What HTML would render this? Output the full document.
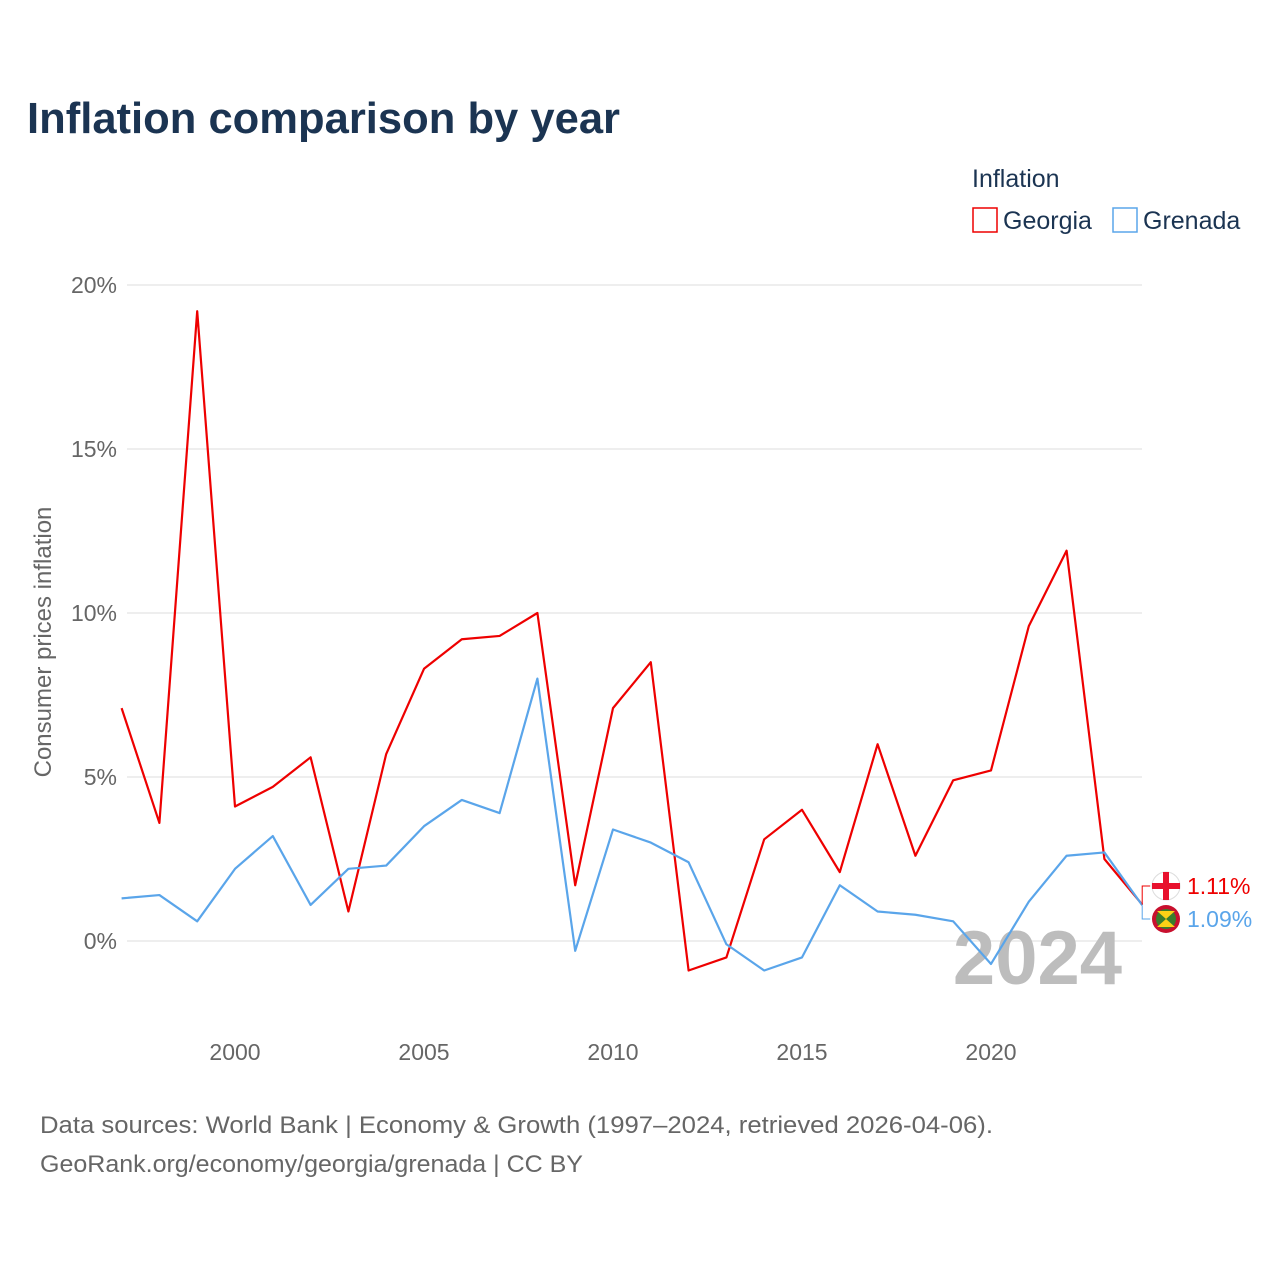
<!DOCTYPE html>
<html><head><meta charset="utf-8"><style>
body{margin:0;background:#fff;}
svg{display:block;font-family:"Liberation Sans",sans-serif;}
</style></head><body>
<svg id="chart" width="1280" height="1280" viewBox="0 0 1280 1280">
<rect width="1280" height="1280" fill="#fff"/>
<text x="27" y="133" font-size="44" font-weight="bold" fill="#1b3452" textLength="593" lengthAdjust="spacingAndGlyphs">Inflation comparison by year</text>
<g>
<text x="972" y="187" font-size="25" fill="#1b3452">Inflation</text>
<g><rect x="973" y="208" width="24" height="24" fill="none" stroke="#ee0000" stroke-width="1.5"/><text x="1003" y="229" font-size="25" fill="#1b3452">Georgia</text></g>
<g><rect x="1113" y="208" width="24" height="24" fill="none" stroke="#5aa5ea" stroke-width="1.5"/><text x="1143" y="229" font-size="25" fill="#1b3452">Grenada</text></g>
</g>
<g id="grid"></g>
<g id="yticks"></g>
<g id="xticks"></g>
<text transform="translate(51,642) rotate(-90)" text-anchor="middle" font-size="24" fill="#666">Consumer prices inflation</text>
<text x="1122" y="984" text-anchor="end" font-size="76" font-weight="bold" fill="#bdbdbd">2024</text>
<g id="series"></g>
<g id="endlabels"></g>
<text x="40" y="1133" font-size="24" fill="#666" textLength="953" lengthAdjust="spacingAndGlyphs">Data sources: World Bank | Economy &amp; Growth (1997–2024, retrieved 2026-04-06).</text>
<text x="40" y="1172" font-size="24" fill="#666" textLength="543" lengthAdjust="spacingAndGlyphs">GeoRank.org/economy/georgia/grenada | CC BY</text>
</svg>
<script>
const years=[1997,1998,1999,2000,2001,2002,2003,2004,2005,2006,2007,2008,2009,2010,2011,2012,2013,2014,2015,2016,2017,2018,2019,2020,2021,2022,2023,2024];
const georgia=[7.1,3.6,19.2,4.1,4.7,5.6,0.9,5.7,8.3,9.2,9.3,10.0,1.7,7.1,8.5,-0.9,-0.5,3.1,4.0,2.1,6.0,2.6,4.9,5.2,9.6,11.9,2.5,1.11];
const grenada=[1.3,1.4,0.6,2.2,3.2,1.1,2.2,2.3,3.5,4.3,3.9,8.0,-0.3,3.4,3.0,2.4,-0.1,-0.9,-0.5,1.7,0.9,0.8,0.6,-0.7,1.2,2.6,2.7,1.09];
const yTicks=[0,5,10,15,20];
const xTicks=[2000,2005,2010,2015,2020];
const NS="http://www.w3.org/2000/svg";
const x=v=>121.6+(v-1997)*37.8;
const y=v=>941-v*32.8;
function mk(tag,attrs,parent,text){const e=document.createElementNS(NS,tag);for(const k in attrs)e.setAttribute(k,attrs[k]);if(text!==undefined)e.textContent=text;parent.appendChild(e);return e;}
const grid=document.getElementById('grid'),yt=document.getElementById('yticks'),xt=document.getElementById('xticks');
yTicks.forEach(t=>{
 const l=mk('line',{x1:127,x2:1142,y1:y(t),y2:y(t),stroke:'#e8e8e8','stroke-width':1.5},grid);
 
 
 const tx=mk('text',{x:117,y:y(t)+8,'text-anchor':'end','font-size':23,fill:'#666'},yt,t+'%');
 
 
});
xTicks.forEach(t=>{
 const tx=mk('text',{x:x(t),y:1060,'text-anchor':'middle','font-size':23,fill:'#666'},xt,String(t));
 
 
});
const ser=document.getElementById('series');
[[georgia,'#ee0000','georgia-line'],[grenada,'#5aa5ea','grenada-line']].forEach(([d,c,n])=>{
 const p=mk('polyline',{points:d.map((v,i)=>x(years[i])+','+y(v)).join(' '),fill:'none',stroke:c,'stroke-width':2.2,'stroke-linejoin':'round'},ser);
 
 
});
const el=document.getElementById('endlabels');
const last=years.length-1;
const gy=886,ry=919,ex=x(years[last]);
const c1=mk('polyline',{points:`${ex},${y(georgia[last])} ${ex},${gy} ${ex+8},${gy}`,fill:'none',stroke:'#ee0000','stroke-width':1},el);


const c2=mk('polyline',{points:`${ex},${y(grenada[last])} ${ex},${ry} ${ex+8},${ry}`,fill:'none',stroke:'#5aa5ea','stroke-width':1},el);


const f1=mk('g',{},el);


mk('circle',{cx:1166,cy:gy,r:14,fill:'#fff',stroke:'#ddd'},f1);
mk('rect',{x:1152,y:gy-3,width:28,height:6,fill:'#e8112d'},f1);
mk('rect',{x:1163,y:gy-14,width:6,height:28,fill:'#e8112d'},f1);
const f2=mk('g',{},el);


mk('circle',{cx:1166,cy:ry,r:14,fill:'#c8102e'},f2);
mk('circle',{cx:1166,cy:ry,r:10,fill:'#3a7d2c'},f2);
mk('polygon',{points:`1157,${ry-8} 1175,${ry-8} 1166,${ry} 1175,${ry+8} 1157,${ry+8} 1166,${ry}`,fill:'#fcd116'},f2);
const t1=mk('text',{x:1187,y:gy+8,'font-size':23,fill:'#ee0000'},el,georgia[last].toFixed(2)+'%');


const t2=mk('text',{x:1187,y:ry+8,'font-size':23,fill:'#5aa5ea'},el,grenada[last].toFixed(2)+'%');


</script>
</body></html>
